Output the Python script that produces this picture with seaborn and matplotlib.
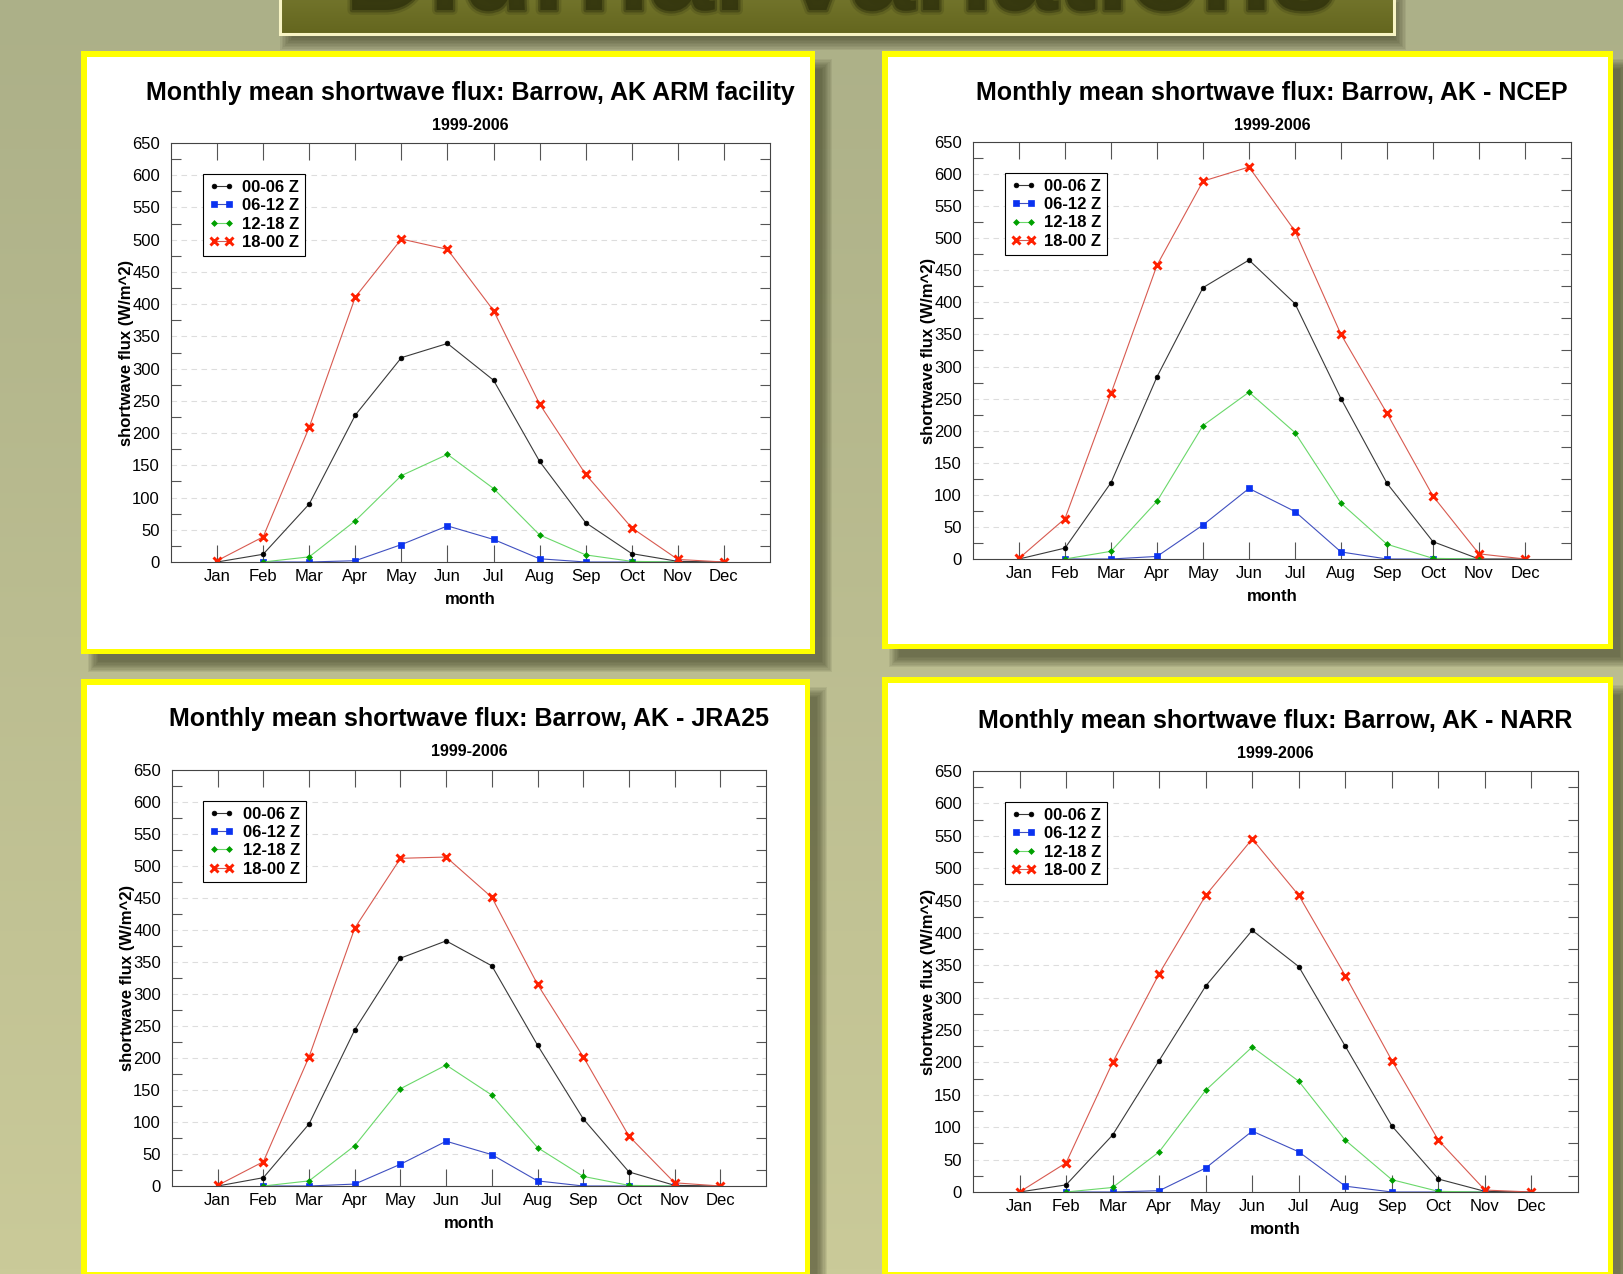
import numpy as np
import matplotlib.pyplot as plt
import matplotlib.patheffects as pe
from matplotlib.patches import Rectangle
import seaborn as sns

months = ['Jan', 'Feb', 'Mar', 'Apr', 'May', 'Jun', 'Jul', 'Aug', 'Sep', 'Oct', 'Nov', 'Dec']
month_num = list(range(1, 13))
series_names = ['00-06 Z', '06-12 Z', '12-18 Z', '18-00 Z']
nan = np.nan

# ARM facility
arm_00 = [0, 12, 90, 228, 317, 339, 282, 156, 61, 13, 1, 0]
arm_06 = [nan, 0, 0, 2, 27, 56, 35, 5, 0, 0, 0, nan]
arm_12 = [nan, 0, 8, 64, 134, 167, 114, 42, 11, 1, 0, nan]
arm_18 = [2, 39, 209, 411, 501, 485, 390, 245, 136, 53, 4, 0]

# NCEP
ncep_00 = [0, 17, 119, 284, 423, 466, 398, 250, 118, 27, 0, 0]
ncep_06 = [nan, 0, 0, 4, 53, 110, 74, 11, 0, 0, 0, nan]
ncep_12 = [nan, 0, 12, 90, 208, 260, 197, 87, 23, 1, 0, nan]
ncep_18 = [1, 63, 258, 458, 589, 611, 511, 350, 227, 98, 8, 0]

# JRA25
jra_00 = [0, 13, 97, 244, 356, 383, 344, 220, 105, 22, 1, 0]
jra_06 = [nan, 0, 0, 3, 34, 70, 49, 8, 0, 0, 0, nan]
jra_12 = [nan, 0, 8, 63, 152, 189, 142, 60, 15, 1, 0, nan]
jra_18 = [1, 38, 202, 403, 512, 514, 451, 315, 202, 78, 5, 0]

# NARR
narr_00 = [0, 11, 88, 203, 318, 404, 348, 225, 102, 20, 1, 0]
narr_06 = [nan, 0, 0, 2, 37, 94, 62, 9, 0, 0, 0, nan]
narr_12 = [nan, 0, 7, 62, 157, 224, 171, 80, 19, 1, 0, nan]
narr_18 = [0, 45, 200, 337, 458, 545, 458, 334, 203, 80, 3, 0]

titles = [
    'Monthly mean shortwave flux: Barrow, AK ARM facility',
    'Monthly mean shortwave flux: Barrow, AK - NCEP',
    'Monthly mean shortwave flux: Barrow, AK - JRA25',
    'Monthly mean shortwave flux: Barrow, AK - NARR',
]
panel_values = [
    [arm_00, arm_06, arm_12, arm_18],
    [ncep_00, ncep_06, ncep_12, ncep_18],
    [jra_00, jra_06, jra_12, jra_18],
    [narr_00, narr_06, narr_12, narr_18],
]

# line colour, marker, marker colour, marker size, marker edge width
styles = [
    ('#3a3a3a', 'o', '#000000', 3.4, 0.5),
    ('#4050c0', 's', '#0a32f0', 4.0, 0.5),
    ('#6ad86a', 'D', '#00a000', 3.0, 0.5),
    ('#d85a50', 'x', '#ff2000', 6.0, 2.1),
]

# layout in pixels (x0, y0, x1, y1), y measured from the top
W, H = 1623, 1274
frames = [(81, 51, 815, 654), (882, 51, 1613, 649),
          (81, 679, 810, 1277), (882, 677, 1613, 1277)]
axboxes = [(171, 143, 770, 562), (973, 142, 1571, 559),
           (172, 770, 766, 1186), (973, 771, 1578, 1192)]
title_ys = [93, 93, 719, 721]

sns.set_style('white')
plt.rcParams['font.family'] = ['Liberation Sans', 'DejaVu Sans']
plt.rcParams['text.color'] = 'black'
plt.rcParams['axes.labelcolor'] = 'black'
plt.rcParams['xtick.color'] = 'black'
plt.rcParams['ytick.color'] = 'black'

fig = plt.figure(figsize=(W / 100, H / 100), dpi=100)

bg = fig.add_axes([0, 0, 1, 1])
bg.set_zorder(0)
bg.axis('off')

# slide background
t = np.linspace(0, 1, 256)[:, None]
top_c = np.array([172, 176, 136]) / 255
bot_c = np.array([202, 202, 153]) / 255
grad = top_c * (1 - t) + bot_c * t
bg.imshow(np.repeat(grad[:, None, :], 4, axis=1), extent=(0, W, H, 0),
          aspect='auto', zorder=0)


def shadow(x0, y0, x1, y1, dx, dy, spread=5, steps=9, alpha=0.085):
    for i in range(steps):
        k = spread * (2 * i / (steps - 1) - 1)
        bg.add_patch(Rectangle((x0 + dx + k, y0 + dy + k),
                               (x1 - x0) - 2 * k, (y1 - y0) - 2 * k,
                               facecolor='#3a3c20', edgecolor='none',
                               alpha=alpha, zorder=1))


# title box
tb = (280, -10, 1394, 34)
shadow(*tb, 6, 10, spread=6)
tgrad = np.array([117, 119, 46]) / 255 * (1 - t) + np.array([100, 102, 30]) / 255 * t
bg.imshow(np.repeat(tgrad[:, None, :], 4, axis=1), extent=(tb[0], tb[2], tb[3], tb[1]),
          aspect='auto', zorder=2)
bg.add_patch(Rectangle((tb[0], tb[1]), tb[2] - tb[0], tb[3] - tb[1], facecolor='none',
                       edgecolor='#f8f4c4', linewidth=2.2, zorder=3))
bg.text(840, 10, 'Diurnal Variations', ha='center', va='baseline',
        fontsize=84, fontweight='bold', color='#34360e', alpha=0.8, zorder=3,
        path_effects=[pe.Stroke(linewidth=7, foreground='#4a4c18', alpha=0.35),
                      pe.Stroke(linewidth=3.5, foreground='#3c3e12', alpha=0.6),
                      pe.Normal()])

for i, (frame, axbox, title, values) in enumerate(zip(frames, axboxes, titles, panel_values)):
    x0, y0, x1, y1 = frame
    shadow(x0, y0, x1, y1, 12, 13)
    bg.add_patch(Rectangle((x0, y0), x1 - x0, y1 - y0, facecolor='#ffff00',
                           edgecolor='none', zorder=4))
    bg.add_patch(Rectangle((x0 + 5.5, y0 + 5.5), x1 - x0 - 11, y1 - y0 - 11,
                           facecolor='white', edgecolor='none', zorder=4))

    ax0, ay0, ax1, ay1 = axbox
    cx = (ax0 + ax1) / 2
    ty = title_ys[i]
    bg.text(cx, ty, title, ha='center', va='center', fontsize=18,
            fontweight='bold', color='black', zorder=5)
    bg.text(cx, ty + 32, '1999-2006', ha='center', va='center', fontsize=11.5,
            fontweight='bold', color='black', zorder=5)

    ax = fig.add_axes([ax0 / W, 1 - ay1 / H, (ax1 - ax0) / W, (ay1 - ay0) / H])
    ax.set_zorder(2)
    for name, vals, (lc, mk, mc, ms, mew) in zip(series_names, values, styles):
        sns.lineplot(x=month_num, y=vals, ax=ax, color=lc, linewidth=0.8,
                     marker=mk, markersize=ms, markerfacecolor=mc,
                     markeredgecolor=mc, markeredgewidth=mew, label=name)

    ax.set_xlim(0, 13)
    ax.set_ylim(0, 650)
    ax.set_xticks(month_num)
    ax.set_xticklabels(months)
    ax.set_yticks(np.arange(0, 651, 50))
    ax.set_yticks(np.arange(25, 650, 50), minor=True)
    ax.tick_params(axis='x', which='major', direction='in', length=12, width=0.8,
                   top=True, bottom=True, color='#555555', labelsize=12, pad=5)
    ax.tick_params(axis='y', which='major', length=0, labelsize=12, pad=8)
    ax.tick_params(axis='y', which='minor', direction='in', length=7, width=0.8,
                   left=True, right=True, color='#555555')
    ax.grid(axis='y', which='major', linestyle=(0, (5, 4)), color='#dddddd',
            linewidth=0.8)
    ax.set_axisbelow(True)
    for s in ax.spines.values():
        s.set_color('#444444')
        s.set_linewidth(0.8)
    ax.set_xlabel('month', fontsize=12, fontweight='bold', labelpad=5.5)
    ax.set_ylabel('shortwave flux (W/m^2)', fontsize=12, fontweight='bold', labelpad=-1.5)

    handles, labels = ax.get_legend_handles_labels()
    leg = ax.legend(handles, labels, loc='upper left', bbox_to_anchor=(0.053, 0.926),
                    frameon=True, fancybox=False, edgecolor='black', framealpha=1,
                    prop={'weight': 'bold', 'size': 12}, handlelength=1.5,
                    numpoints=2, borderpad=0.35, labelspacing=0.2,
                    handletextpad=0.5, borderaxespad=0)
    leg.get_frame().set_linewidth(0.8)

bg.set_xlim(0, W)
bg.set_ylim(H, 0)

fig.savefig('out.png', dpi=100)
